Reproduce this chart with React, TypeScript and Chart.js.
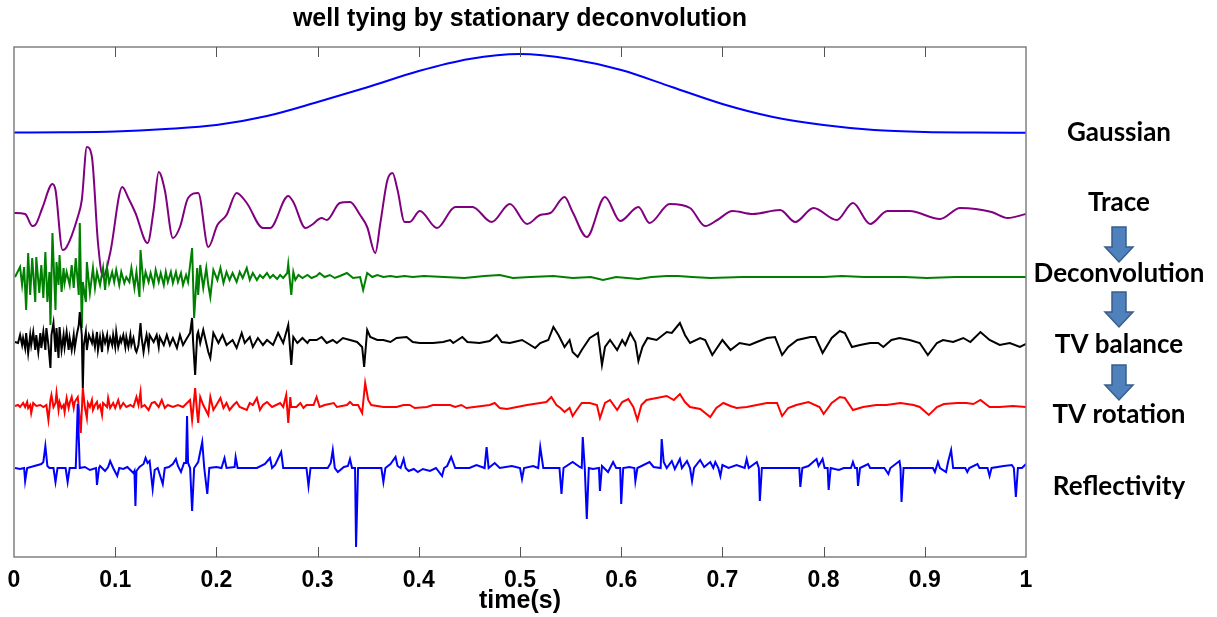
import { useEffect, useRef } from "react";
import { Chart, registerables } from "chart.js";

Chart.register(...registerables);

// ---- data: [time in ms, amplitude] ----
const gaussian: [number, number][] = [
  [0, 0.5], [50, 0.7], [100, 1.5], [150, 4], [200, 8], [250, 17], [300, 31], [350, 46], [400, 62],
  [450, 74], [500, 79], [550, 74], [600, 63], [650, 46], [700, 29], [750, 16], [800, 8], [850, 3],
  [900, 1], [950, 0.5], [1000, 0.3],
];

const trace: [number, number][] = [
  [0, 1], [11, 0], [18, -12], [21, -11], [28, 6], [38, 30], [41, 24], [48, -36], [52, -33], [63, -3],
  [67, 14], [72, 67], [77, 57], [83, -29], [88, -63], [95, -39], [107, 27], [113, 16], [120, 1],
  [132, -29], [138, 4], [143, 42], [149, 24], [157, -24], [164, -13], [172, 16], [182, 21], [192, -33],
  [201, -11], [210, -1], [220, 21], [230, 11], [246, -14], [253, -14], [271, 18], [276, 12], [288, -14],
  [294, -11], [304, -4], [309, -6], [322, 11], [332, 12], [342, -1], [349, -13], [357, -39], [362, -9],
  [369, 34], [374, 41], [379, 24], [386, -8], [391, -8], [401, 3], [418, -14], [436, 7], [453, 7],
  [472, -8], [490, 10], [507, -10], [520, -1], [530, 1], [544, 17], [552, 2], [566, -23], [584, 17],
  [599, -7], [617, 7], [628, -9], [648, 10], [668, 6], [683, -12], [695, -6], [710, 3], [730, 0],
  [757, 4], [772, -8], [790, 6], [813, -6], [829, 11], [846, -10], [863, 3], [885, 3], [915, -5],
  [935, 6], [966, 2], [982, -4], [1000, 0],
];

const deconvolution: [number, number][] = [
  [1, 0], [6, 10], [8, -8], [10, 10], [12, -33], [14, 24], [16, -18], [18, 19], [21, -25], [22, 20],
  [25, -16], [27, 12], [29, -21], [31, 25], [33, -25], [35, 5], [36, -48], [38, 44], [41, -33], [42, 15],
  [44, -8], [45, 22], [47, -15], [49, 9], [50, -6], [52, 5], [55, -8], [57, 12], [59, -11], [61, 19],
  [64, -18], [65, 54], [67, -51], [68, -5], [71, -25], [72, 15], [75, -16], [78, 9], [80, -11], [82, 5],
  [85, -8], [88, 9], [90, -13], [92, 9], [94, -6], [97, 5], [99, -5], [101, 7], [104, -8], [106, 5],
  [109, -6], [111, 0], [114, -5], [116, 9], [119, -11], [121, 5], [124, -20], [125, 27], [128, -8],
  [130, 5], [133, -5], [135, 4], [138, -8], [140, 7], [143, -5], [145, 4], [148, -8], [150, 5],
  [152, -5], [155, 5], [157, -6], [160, 5], [162, -5], [165, 4], [167, -8], [170, 2], [172, -5],
  [176, 29], [178, -41], [181, 9], [182, -18], [184, 12], [187, -11], [190, 9], [192, -8], [194, -20],
  [197, 7], [201, -3], [204, 9], [207, -6], [210, 5], [213, -3], [216, 4], [220, -5], [223, 5],
  [226, -1], [230, 9], [233, -3], [236, 4], [240, -3], [243, 2], [246, -1], [250, 4], [253, -1],
  [256, 2], [260, -2], [263, 2], [266, -1], [270, 4], [271, 13], [274, -18], [276, 5], [278, -3],
  [281, 2], [285, -1], [290, 2], [294, -1], [299, 1], [302, 4], [307, 0], [312, 2], [317, -1],
  [322, 1], [329, 4], [335, -1], [342, 0], [345, -13], [349, 4], [354, 0], [359, 2], [365, 0],
  [372, 1], [378, 0], [386, 1], [394, 0], [405, 1], [425, 0], [445, -1], [465, 1], [480, 2],
  [493, -1], [510, 0], [533, 1], [552, -1], [570, 0], [582, -3], [595, 0], [617, -2], [630, 0],
  [645, 1], [656, 1], [670, 0], [688, -1], [720, 0], [760, 0], [800, 0], [818, 1], [840, 0],
  [880, 0], [902, -1], [930, 0], [1000, 0],
];

const tvBalance: [number, number][] = [
  [1, 0], [4, -1], [6, 7], [8, -3], [9, 4], [11, -6], [12, 9], [14, -11], [16, 7], [17, -3], [19, 10],
  [21, -8], [22, 7], [24, -10], [26, 9], [27, -6], [29, 10], [31, -8], [32, 14], [34, -3], [36, -26],
  [37, 7], [39, 19], [41, -10], [42, 14], [44, -16], [45, 15], [47, -8], [49, 7], [50, -5], [52, 10],
  [54, -8], [55, 4], [57, -8], [59, 7], [60, -6], [62, 7], [64, 17], [65, 30], [67, 7], [68, -46],
  [69, -3], [71, 10], [72, -8], [74, 7], [77, -1], [78, 7], [80, -5], [82, 10], [83, -8], [85, 5],
  [87, -10], [88, 7], [90, -1], [92, 7], [93, -6], [95, 4], [97, -3], [98, 7], [100, -5], [101, 10],
  [103, -5], [105, 4], [106, 0], [108, 7], [110, -5], [111, 5], [113, -5], [115, 7], [116, -3],
  [118, 4], [120, -8], [121, -10], [123, -3], [125, 19], [126, 5], [128, -10], [129, -3], [131, 7],
  [133, -6], [134, 7], [138, 0], [141, 7], [143, -5], [144, 5], [148, -3], [151, 7], [154, -3],
  [157, 4], [161, -6], [164, 7], [167, -3], [171, 4], [174, 9], [176, 24], [177, 0], [179, -33],
  [181, 7], [182, 10], [184, -1], [187, 12], [192, -10], [194, -16], [197, 9], [202, -1], [206, 7],
  [210, -3], [216, 2], [220, -6], [225, 9], [228, -1], [233, 5], [236, -5], [241, 4], [246, -3],
  [250, 2], [256, -3], [261, 9], [266, -1], [271, 17], [274, -23], [276, 5], [280, -1], [285, 4],
  [290, -1], [292, 2], [299, 2], [304, 5], [309, -1], [315, 2], [319, -1], [325, 4], [332, 2],
  [339, 0], [344, -5], [346, -25], [349, 12], [352, 5], [359, 2], [365, 2], [372, 0], [378, 4],
  [388, 5], [394, 0], [401, -1], [414, -1], [424, 0], [431, 2], [434, -1], [443, 5], [448, 0],
  [460, -1], [470, 1], [477, 7], [482, 0], [490, -1], [502, 2], [507, -1], [515, -6], [520, -1],
  [528, 2], [533, 15], [538, 7], [544, -5], [549, 2], [552, -10], [557, -15], [561, -8], [569, 4],
  [577, 9], [581, -23], [584, -5], [589, 2], [596, -8], [601, 2], [604, -3], [609, 9], [614, 0],
  [617, -19], [621, -5], [626, 4], [635, 2], [645, 10], [650, 9], [658, 19], [663, 7], [668, -1],
  [678, 4], [683, 2], [690, -13], [700, 2], [708, -8], [717, -1], [727, -3], [734, 0], [744, 4],
  [752, 5], [759, -13], [765, -5], [774, 2], [787, 5], [792, 5], [799, -11], [808, 4], [816, 11],
  [821, 9], [828, -5], [836, -3], [846, -1], [854, -1], [859, -5], [867, 2], [875, 4], [885, 2],
  [895, -1], [903, -13], [912, -1], [918, 2], [928, 0], [938, 4], [945, 0], [955, 10], [964, 2],
  [974, -3], [984, -1], [994, -5], [1000, -2],
];

const tvRotation: [number, number][] = [
  [1, 0], [4, 1], [6, -1], [9, 3], [11, -1], [13, 4], [14, -2], [16, 1], [17, -7], [19, 3], [22, 0],
  [26, 1], [29, -1], [32, 1], [34, -14], [36, 6], [37, 11], [39, -1], [41, 3], [42, 13], [44, -4],
  [45, 4], [47, -2], [49, 1], [50, -6], [52, 8], [54, -2], [55, 3], [57, 9], [59, -2], [60, 4],
  [63, 9], [64, -1], [66, -27], [68, 18], [70, -1], [72, -12], [73, 3], [75, -1], [77, 6], [78, -4],
  [80, 1], [82, 4], [83, -2], [85, 1], [87, -9], [88, 3], [92, -1], [93, 8], [95, -2], [98, 3],
  [100, -2], [103, 6], [105, -2], [108, 3], [111, -1], [115, 1], [118, -1], [121, 9], [123, 1],
  [125, 14], [126, -1], [129, 1], [133, -4], [136, 3], [139, 4], [143, -1], [146, 6], [149, -2],
  [152, 1], [157, -1], [162, 1], [167, -1], [171, 3], [174, 6], [176, -14], [177, -4], [179, 18],
  [181, -7], [182, -17], [184, 9], [187, 1], [192, -9], [194, 9], [197, -4], [200, 1], [204, 8],
  [207, -2], [210, 3], [213, -4], [217, 1], [220, 4], [223, -1], [230, -4], [233, 3], [236, 1],
  [240, 8], [243, -4], [246, 1], [250, 4], [255, -1], [263, 3], [266, -1], [269, 11], [271, -17],
  [273, 9], [274, -1], [279, -1], [283, 3], [286, -2], [289, 1], [296, 1], [299, 9], [302, -1],
  [307, 1], [316, 3], [319, -1], [329, 1], [332, 4], [335, 1], [340, 1], [344, -7], [347, 23],
  [350, 6], [353, 1], [365, -1], [378, -1], [385, 1], [391, 1], [396, -2], [408, -1], [414, 1],
  [431, 1], [436, -1], [442, 1], [447, -2], [470, 1], [475, 3], [480, -2], [487, -3], [497, -1],
  [507, 1], [520, 3], [526, 4], [531, 9], [536, 1], [540, -2], [544, -6], [549, -2], [552, -10],
  [556, -4], [561, 3], [569, 3], [576, 1], [579, -12], [584, 3], [589, 6], [596, -4], [601, 4],
  [607, 7], [612, -1], [616, -14], [620, 1], [625, 6], [635, 8], [645, 10], [652, 6], [658, 12],
  [663, 4], [668, -1], [678, -3], [688, -11], [694, -2], [701, 3], [708, 0], [714, -2], [724, -1],
  [734, 1], [744, 3], [754, 3], [759, -10], [765, -2], [773, 1], [785, 4], [796, -1], [800, -8],
  [808, 3], [816, 9], [821, 8], [829, -4], [839, -1], [852, 1], [862, 1], [876, 3], [889, 1],
  [895, -1], [904, -9], [912, -1], [919, 2], [932, 3], [941, 3], [948, 2], [955, 6], [964, -1],
  [974, -1], [987, 0], [1000, -1],
];

const reflectivity: [number, number][] = [
  [1, 0], [6, -1], [10, 0], [11, -13], [13, 0], [27, 4], [29, 6], [31, 22], [33, 2], [35, 0],
  [39, 0], [41, -14], [43, 0], [51, 0], [53, -14], [55, 0], [61, 0], [62, 30], [63, 64], [64, 30],
  [65, 0], [70, 1], [75, -2], [81, 0], [82, -17], [84, 0], [85, 2], [90, -3], [93, 1], [95, 7],
  [98, 0], [102, -8], [104, 0], [108, -1], [112, 1], [118, -5], [119, -3], [120, -38], [121, -3],
  [124, 1], [128, 4], [130, 10], [132, 5], [134, 7], [137, -21], [139, -2], [142, 0], [147, -16],
  [149, 0], [153, 1], [157, 4], [160, 9], [162, 2], [165, -4], [168, 5], [170, 5], [171, 52],
  [172, 5], [174, 0], [176, -43], [178, 0], [182, 6], [186, 26], [188, 0], [191, -26], [193, 0],
  [200, 1], [205, 0], [208, 10], [210, 0], [218, 1], [219, 11], [221, 0], [230, 0], [240, 0],
  [248, 4], [253, 10], [255, 0], [258, 3], [264, 16], [266, 0], [280, 0], [289, 0], [291, -18],
  [293, 0], [310, 0], [313, 5], [315, 18], [317, 0], [320, -4], [326, 1], [330, 2], [332, 9],
  [334, 0], [337, 0], [338, -79], [339, -40], [340, 0], [345, 0], [355, 0], [363, 0], [365, -14],
  [367, 0], [372, 4], [377, 11], [379, 2], [382, 0], [385, 9], [387, 0], [390, -3], [395, -1],
  [399, -4], [404, -1], [411, -3], [417, 0], [423, -8], [425, 0], [428, 2], [432, 11], [436, 0],
  [450, 0], [457, 3], [465, 0], [467, 21], [469, 0], [475, 5], [480, 0], [492, 2], [500, 0],
  [502, -11], [504, 0], [513, 2], [518, 0], [520, 21], [523, 0], [539, 0], [541, -26], [543, 0],
  [552, 6], [559, 1], [561, 0], [562, 31], [564, 0], [566, -51], [568, 0], [572, -1], [578, 0],
  [579, -23], [581, 2], [587, -4], [592, 6], [595, 0], [599, 0], [600, -36], [602, 0], [608, 1],
  [613, 0], [614, -13], [616, 0], [628, 6], [632, 1], [639, 0], [640, 29], [642, 6], [645, 0],
  [650, 7], [653, -1], [658, 9], [660, 0], [665, 7], [668, 0], [670, -13], [672, 0], [678, 8],
  [682, 1], [688, 6], [691, 0], [693, 6], [696, 0], [698, -8], [700, 3], [706, 0], [714, 3],
  [722, 0], [724, 9], [726, 0], [734, 6], [736, 0], [737, -33], [739, 0], [770, 0], [776, 0],
  [777, -19], [779, 0], [785, 2], [793, 9], [795, 2], [799, 9], [801, 0], [804, 0], [805, -22],
  [807, 0], [815, -2], [820, 0], [827, 0], [829, 6], [831, 0], [833, 0], [834, -18], [836, 0],
  [844, 4], [846, 0], [860, 0], [864, -6], [866, 0], [875, 7], [876, 0], [877, -34], [879, 0],
  [908, 0], [910, -4], [913, 6], [915, 0], [921, -4], [923, 6], [926, 18], [928, 0], [940, 0],
  [942, -4], [944, 0], [952, 4], [954, 0], [962, 0], [964, -8], [966, 0], [978, 2], [986, 3],
  [988, 0], [990, -29], [992, 0], [996, 0], [1000, 4],
];

// x axis tick values and their printed labels
const xTickValues = [0, 0.1, 0.2, 0.3, 0.4, 0.5, 0.6, 0.7, 0.8, 0.9, 1];
const xTickLabels = ["0", "0.1", "0.2", "0.3", "0.4", "0.5", "0.6", "0.7", "0.8", "0.9", "1"];

const chartTitle = "well tying by stationary deconvolution";
const xAxisTitle = "time(s)";

// processing-step captions shown beside each trace
const stepLabels = ["Gaussian", "Trace", "Deconvolution", "TV balance", "TV rotation", "Reflectivity"];

// ---- drawing configuration ----
const W = 1217;
const H = 617;
const Y_MAX = 510;

const series = [
  { label: "Gaussian", points: gaussian, base: 424, color: "#0000FF", smooth: true },
  { label: "Trace", points: trace, base: 343, color: "#800080", smooth: true },
  { label: "Deconvolution", points: deconvolution, base: 280, color: "#008000", smooth: false },
  { label: "TV balance", points: tvBalance, base: 215, color: "#000000", smooth: false },
  { label: "TV rotation", points: tvRotation, base: 151, color: "#FF0000", smooth: false },
  { label: "Reflectivity", points: reflectivity, base: 89, color: "#0000FF", smooth: false },
];

const labelCenterX = 1119;
const labelBaselines = [141, 211, 282, 353, 423, 495];
const arrowTops = [227, 292, 365];

const decorPlugin = {
  id: "decor",
  afterDatasetsDraw(chart: any) {
    const { ctx, chartArea: a, scales } = chart;
    const xs = scales.x;
    ctx.save();
    // axes box
    ctx.strokeStyle = "#808080";
    ctx.lineWidth = 1.5;
    ctx.strokeRect(a.left, a.top, a.right - a.left, a.bottom - a.top);
    // inward tick marks on bottom and top edges
    ctx.strokeStyle = "#555555";
    ctx.lineWidth = 1;
    ctx.beginPath();
    xTickValues.forEach((v) => {
      if (v <= 0 || v >= 1) return;
      const px = Math.round(xs.getPixelForValue(v)) + 0.5;
      ctx.moveTo(px, a.bottom);
      ctx.lineTo(px, a.bottom - 10);
      ctx.moveTo(px, a.top);
      ctx.lineTo(px, a.top + 10);
    });
    ctx.stroke();
    ctx.restore();
  },
  afterDraw(chart: any) {
    const { ctx, chartArea: a } = chart;
    ctx.save();
    // title
    ctx.fillStyle = "#000";
    ctx.font = 'bold 25px "Liberation Sans", Arial, sans-serif';
    ctx.textAlign = "center";
    ctx.textBaseline = "middle";
    ctx.fillText(chartTitle, (a.left + a.right) / 2, 19);
    // step captions
    ctx.font = 'bold 26px Lato, "Open Sans", sans-serif';
    ctx.textBaseline = "alphabetic";
    stepLabels.forEach((t, i) => ctx.fillText(t, labelCenterX, labelBaselines[i]));
    // down arrows between captions
    ctx.fillStyle = "#4F81BD";
    ctx.strokeStyle = "#385D8A";
    ctx.lineWidth = 1.5;
    arrowTops.forEach((top) => {
      const cx = labelCenterX;
      ctx.beginPath();
      ctx.moveTo(cx - 7, top);
      ctx.lineTo(cx + 7, top);
      ctx.lineTo(cx + 7, top + 20);
      ctx.lineTo(cx + 14, top + 20);
      ctx.lineTo(cx, top + 35);
      ctx.lineTo(cx - 14, top + 20);
      ctx.lineTo(cx - 7, top + 20);
      ctx.closePath();
      ctx.fill();
      ctx.stroke();
    });
    ctx.restore();
  },
};

export default function App() {
  const canvasRef = useRef<HTMLCanvasElement | null>(null);

  useEffect(() => {
    if (!canvasRef.current) return;
    const datasets = series.map((s, i) => ({
      label: s.label,
      data: s.points.map(([ms, v]) => ({ x: ms / 1000, y: s.base + v })),
      borderColor: s.color,
      backgroundColor: s.color,
      borderWidth: 2,
      pointRadius: 0,
      fill: false,
      tension: s.smooth ? 0.4 : 0,
      cubicInterpolationMode: s.smooth ? ("monotone" as const) : ("default" as const),
      order: series.length - i,
    }));

    const chart = new Chart(canvasRef.current, {
      type: "line",
      data: { datasets },
      options: {
        responsive: false,
        animation: false,
        events: [],
        layout: { padding: { left: 14, right: W - 1026, top: 47, bottom: 0 } },
        plugins: { legend: { display: false }, tooltip: { enabled: false }, title: { display: false } },
        scales: {
          x: {
            type: "linear",
            min: 0,
            max: 1,
            grid: { display: false },
            border: { display: false },
            afterFit: (scale: any) => {
              scale.height = 60;
            },
            afterBuildTicks: (scale: any) => {
              scale.ticks = xTickValues.map((v) => ({ value: v }));
            },
            ticks: {
              color: "#000",
              padding: 2,
              maxRotation: 0,
              autoSkip: false,
              font: { family: '"Liberation Sans", Arial, sans-serif', weight: "bold", size: 23 },
              callback: (v: any) => xTickLabels[Math.round(Number(v) * 10)],
            },
            title: {
              display: true,
              text: xAxisTitle,
              color: "#000",
              padding: { top: 0, bottom: 1 },
              font: { family: '"Liberation Sans", Arial, sans-serif', weight: "bold", size: 25 },
            },
          },
          y: { type: "linear", min: 0, max: Y_MAX, display: false },
        },
      },
      plugins: [decorPlugin],
    });
    return () => chart.destroy();
  }, []);

  return (
    <div style={{ position: "absolute", left: 0, top: 0, width: W, height: H, background: "#fff" }}>
      <canvas ref={canvasRef} width={W} height={H} style={{ width: W, height: H, display: "block" }} />
    </div>
  );
}
